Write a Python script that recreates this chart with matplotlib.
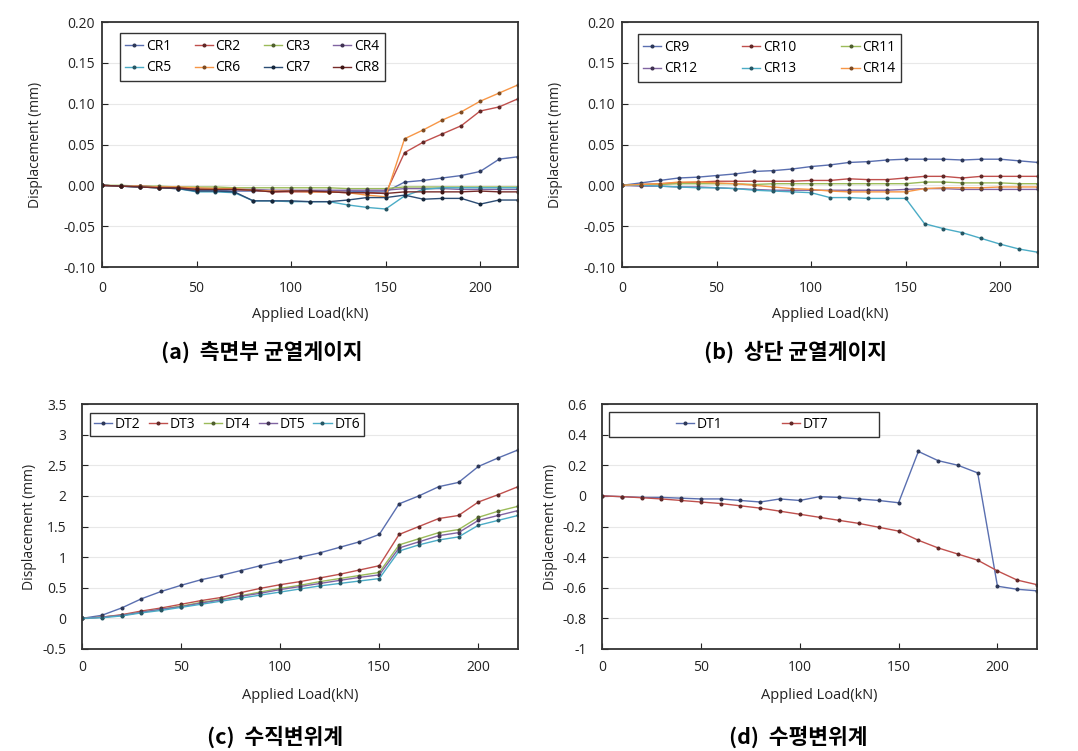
import matplotlib
matplotlib.use("Agg")
import matplotlib.pyplot as plt
import matplotlib.colors as mcolors
from matplotlib.patches import Rectangle
import numpy as np

plt.rcParams['font.family'] = ['Open Sans', 'DejaVu Sans']

load = [0, 10, 20, 30, 40, 50, 60, 70, 80, 90, 100, 110, 120, 130, 140, 150,
        160, 170, 180, 190, 200, 210, 220]

# (a) side crack gauges
CR1 = [0, -0.001, -0.002, -0.003, -0.004, -0.006, -0.006, -0.007, -0.007, -0.007, -0.007, -0.007,
       -0.007, -0.007, -0.008, -0.008, 0.004, 0.006, 0.009, 0.012, 0.017, 0.032, 0.035]
CR2 = [0, -0.001, -0.001, -0.002, -0.003, -0.004, -0.005, -0.005, -0.006, -0.008, -0.008, -0.008,
       -0.008, -0.009, -0.009, -0.010, 0.040, 0.053, 0.063, 0.073, 0.091, 0.096, 0.106]
CR3 = [0, 0, -0.001, -0.001, -0.002, -0.002, -0.002, -0.003, -0.003, -0.003, -0.003, -0.003,
       -0.003, -0.004, -0.004, -0.004, -0.002, -0.002, -0.002, -0.002, -0.002, -0.002, -0.002]
CR4 = [0, -0.001, -0.001, -0.002, -0.003, -0.004, -0.004, -0.005, -0.005, -0.006, -0.006, -0.006,
       -0.006, -0.006, -0.006, -0.006, -0.004, -0.004, -0.004, -0.005, -0.005, -0.005, -0.005]
CR5 = [0, -0.001, -0.002, -0.003, -0.004, -0.008, -0.008, -0.009, -0.019, -0.019, -0.020, -0.020,
       -0.020, -0.024, -0.027, -0.029, -0.013, -0.005, -0.003, -0.003, -0.003, -0.003, -0.003]
CR6 = [0, -0.001, -0.001, -0.002, -0.002, -0.003, -0.004, -0.004, -0.006, -0.007, -0.007, -0.008,
       -0.008, -0.009, -0.012, -0.014, 0.057, 0.068, 0.080, 0.090, 0.103, 0.113, 0.123]
CR7 = [0, -0.001, -0.002, -0.003, -0.004, -0.007, -0.007, -0.008, -0.019, -0.019, -0.019, -0.020,
       -0.020, -0.018, -0.015, -0.015, -0.012, -0.017, -0.016, -0.016, -0.023, -0.018, -0.018]
CR8 = [0, -0.001, -0.002, -0.003, -0.003, -0.005, -0.005, -0.005, -0.006, -0.008, -0.007, -0.007,
       -0.008, -0.009, -0.009, -0.010, -0.008, -0.008, -0.008, -0.008, -0.007, -0.008, -0.008]

# (b) top crack gauges
CR9 = [0, 0.003, 0.006, 0.009, 0.010, 0.012, 0.014, 0.017, 0.018, 0.020, 0.023, 0.025,
       0.028, 0.029, 0.031, 0.032, 0.032, 0.032, 0.031, 0.032, 0.032, 0.030, 0.028]
CR10 = [0, 0.001, 0.002, 0.003, 0.004, 0.005, 0.005, 0.005, 0.005, 0.005, 0.006, 0.006,
        0.008, 0.007, 0.007, 0.009, 0.011, 0.011, 0.009, 0.011, 0.011, 0.011, 0.011]
CR11 = [0, 0.001, 0.001, 0.002, 0.002, 0.002, 0.002, 0.001, 0.002, 0.002, 0.002, 0.002,
        0.002, 0.002, 0.002, 0.002, 0.004, 0.004, 0.003, 0.003, 0.003, 0.002, 0.002]
CR12 = [0, -0.001, -0.001, -0.002, -0.002, -0.003, -0.004, -0.005, -0.006, -0.006, -0.006, -0.006,
        -0.006, -0.006, -0.006, -0.005, -0.004, -0.004, -0.005, -0.005, -0.005, -0.005, -0.005]
CR13 = [0, 0, -0.001, -0.002, -0.003, -0.003, -0.004, -0.006, -0.007, -0.008, -0.009, -0.015,
        -0.015, -0.016, -0.016, -0.016, -0.047, -0.053, -0.058, -0.065, -0.072, -0.078, -0.082]
CR14 = [0, 0.001, 0.002, 0.004, 0.004, 0.003, 0.002, 0.000, -0.002, -0.004, -0.005, -0.007,
        -0.008, -0.008, -0.008, -0.008, -0.004, -0.003, -0.003, -0.003, -0.002, -0.002, -0.002]

# (c) vertical displacement transducers
DT2 = [0, 0.05, 0.17, 0.32, 0.44, 0.54, 0.63, 0.70, 0.78, 0.86, 0.93, 1.00,
       1.07, 1.16, 1.25, 1.37, 1.87, 2.00, 2.15, 2.22, 2.48, 2.62, 2.75]
DT3 = [0, 0.02, 0.06, 0.12, 0.17, 0.23, 0.29, 0.34, 0.42, 0.49, 0.55, 0.60,
       0.66, 0.72, 0.79, 0.86, 1.37, 1.50, 1.63, 1.68, 1.90, 2.02, 2.15]
DT4 = [0, 0.02, 0.05, 0.10, 0.15, 0.20, 0.26, 0.31, 0.37, 0.43, 0.49, 0.54,
       0.60, 0.65, 0.70, 0.75, 1.20, 1.30, 1.40, 1.45, 1.65, 1.75, 1.83]
DT5 = [0, 0.02, 0.05, 0.10, 0.15, 0.19, 0.25, 0.30, 0.36, 0.41, 0.47, 0.52,
       0.57, 0.62, 0.67, 0.71, 1.15, 1.25, 1.35, 1.40, 1.60, 1.68, 1.76]
DT6 = [0, 0.01, 0.04, 0.09, 0.13, 0.18, 0.23, 0.28, 0.33, 0.38, 0.43, 0.48,
       0.53, 0.57, 0.61, 0.65, 1.10, 1.20, 1.28, 1.33, 1.52, 1.60, 1.68]

# (d) horizontal displacement transducers
DT1 = [0, -0.005, -0.01, -0.01, -0.015, -0.02, -0.02, -0.03, -0.04, -0.02, -0.03, -0.005,
       -0.01, -0.02, -0.03, -0.045, 0.29, 0.23, 0.20, 0.15, -0.59, -0.61, -0.62]
DT7 = [0, -0.005, -0.012, -0.02, -0.03, -0.04, -0.05, -0.065, -0.08, -0.10, -0.12, -0.14,
       -0.16, -0.18, -0.205, -0.23, -0.29, -0.34, -0.38, -0.42, -0.49, -0.55, -0.58]

panel_titles = ["(a)  측면부 균열게이지", "(b)  상단 균열게이지", "(c)  수직변위계", "(d)  수평변위계"]
xlabel = "Applied Load(kN)"
ylabel = "Displacement (mm)"

pal = ['#5a6fb0', '#c0504d', '#9bbb59', '#8064a2', '#4bacc6', '#f79646', '#2c4d75', '#772c2a']


def darker(c, f=0.6):
    r, g, b = mcolors.to_rgb(c)
    return (r * f, g * f, b * f)


fig = plt.figure(figsize=(10.78, 7.51), dpi=100)
W, H = 1078, 751


def make_ax(x0, y0, x1, y1):
    return fig.add_axes([x0 / W, 1 - y1 / H, (x1 - x0) / W, (y1 - y0) / H])


def style(ax, ylim, yticks, yfmt, ypad, xpad, ylab_x, xlab_y):
    ax.set_xlim(0, 220)
    ax.set_ylim(*ylim)
    ax.set_xticks([0, 50, 100, 150, 200])
    ax.set_yticks(yticks)
    ax.set_yticklabels([yfmt(v) for v in yticks])
    ax.tick_params(direction='in', length=4, width=0.8, labelsize=10, colors='#222222')
    ax.tick_params(axis='y', pad=ypad)
    ax.tick_params(axis='x', pad=xpad)
    ax.grid(axis='y', color='#e8e8e8', linewidth=0.8)
    ax.set_axisbelow(True)
    for s in ax.spines.values():
        s.set_color('#333333')
        s.set_linewidth(1.3)
    ax.set_xlabel(xlabel, fontsize=10.5, color='#222222')
    ax.set_ylabel(ylabel, fontsize=10, color='#222222')
    ax.yaxis.set_label_coords(ylab_x, 0.5)
    ax.xaxis.set_label_coords(0.5, xlab_y)


def plot_series(ax, series, names):
    handles = []
    for i, (s, n) in enumerate(zip(series, names)):
        c = pal[i]
        h, = ax.plot(load, s, color=c, lw=1.0, marker='o', ms=1.9,
                     mfc=darker(c, 0.5), mec=darker(c, 0.5), label=n)
        handles.append(h)
    return handles


def rowwise(handles, ncol):
    nrow = int(np.ceil(len(handles) / ncol))
    order = []
    for c in range(ncol):
        for r in range(nrow):
            k = r * ncol + c
            if k < len(handles):
                order.append(handles[k])
    return order


def fmt2(v):
    return f"{v:.2f}"


def fmtg(v):
    return f"{v:g}"


leg_kw = dict(borderaxespad=0, fontsize=10, handlelength=1.3, handletextpad=0.2,
              fancybox=False, edgecolor='#333333', framealpha=1)

# (a)
axa = make_ax(102, 22, 518, 267)
ha = plot_series(axa, [CR1, CR2, CR3, CR4, CR5, CR6, CR7, CR8],
                 ['CR1', 'CR2', 'CR3', 'CR4', 'CR5', 'CR6', 'CR7', 'CR8'])
style(axa, (-0.10, 0.20), [-0.10, -0.05, 0.00, 0.05, 0.10, 0.15, 0.20], fmt2,
      5, 10, -0.142, -0.165)
ha = rowwise(ha, 4)
la = axa.legend(ha, [h.get_label() for h in ha], ncol=4, loc='lower left',
                bbox_to_anchor=(0.043, 0.759, 0.637, 0.204), mode='expand',
                borderpad=0.4, labelspacing=0.5, **leg_kw)
la.get_frame().set_linewidth(1.0)

# (b)
axb = make_ax(622, 22, 1038, 267)
hb = plot_series(axb, [CR9, CR10, CR11, CR12, CR13, CR14],
                 ['CR9', 'CR10', 'CR11', 'CR12', 'CR13', 'CR14'])
style(axb, (-0.10, 0.20), [-0.10, -0.05, 0.00, 0.05, 0.10, 0.15, 0.20], fmt2,
      5, 10, -0.142, -0.165)
hb = rowwise(hb, 3)
lb = axb.legend(hb, [h.get_label() for h in hb], ncol=3, loc='lower left',
                bbox_to_anchor=(0.038, 0.755, 0.633, 0.208), mode='expand',
                borderpad=0.4, labelspacing=0.5, **leg_kw)
lb.get_frame().set_linewidth(1.0)

# (c)
axc = make_ax(82, 404, 518, 649)
plot_series(axc, [DT2, DT3, DT4, DT5, DT6], ['DT2', 'DT3', 'DT4', 'DT5', 'DT6'])
style(axc, (-0.5, 3.5), [-0.5, 0, 0.5, 1, 1.5, 2, 2.5, 3, 3.5], fmtg,
      11, 8, -0.103, -0.16)
lc = axc.legend(ncol=5, loc='lower left', bbox_to_anchor=(0.018, 0.869, 0.629, 0.102),
                mode='expand', borderpad=0.3, **leg_kw)
lc.get_frame().set_linewidth(1.0)

# (d)
axd = make_ax(602, 404, 1037, 649)
plot_series(axd, [DT1, DT7], ['DT1', 'DT7'])
style(axd, (-1.0, 0.6), [-1, -0.8, -0.6, -0.4, -0.2, 0, 0.2, 0.4, 0.6], fmtg,
      11, 8, -0.101, -0.16)
axd.add_patch(Rectangle((0.016, 0.865), 0.621, 0.102, transform=axd.transAxes,
                        facecolor='white', edgecolor='#333333', lw=1.0, zorder=4))
ld = axd.legend(ncol=2, loc='center', bbox_to_anchor=(0.345, 0.916), borderaxespad=0,
                fontsize=10, handlelength=1.3, handletextpad=0.2, columnspacing=4.3,
                frameon=False)
ld.set_zorder(5)

# Panel titles
title_pos = [(262, 352), (795, 352), (275, 737), (798, 737)]
for t, (x, y) in zip(panel_titles, title_pos):
    fig.text(x / W, 1 - y / H, t, ha='center', va='center', fontsize=15.5, fontweight='bold',
             family=['Noto Sans CJK KR', 'DejaVu Sans'])

fig.savefig("out.png", dpi=100)
